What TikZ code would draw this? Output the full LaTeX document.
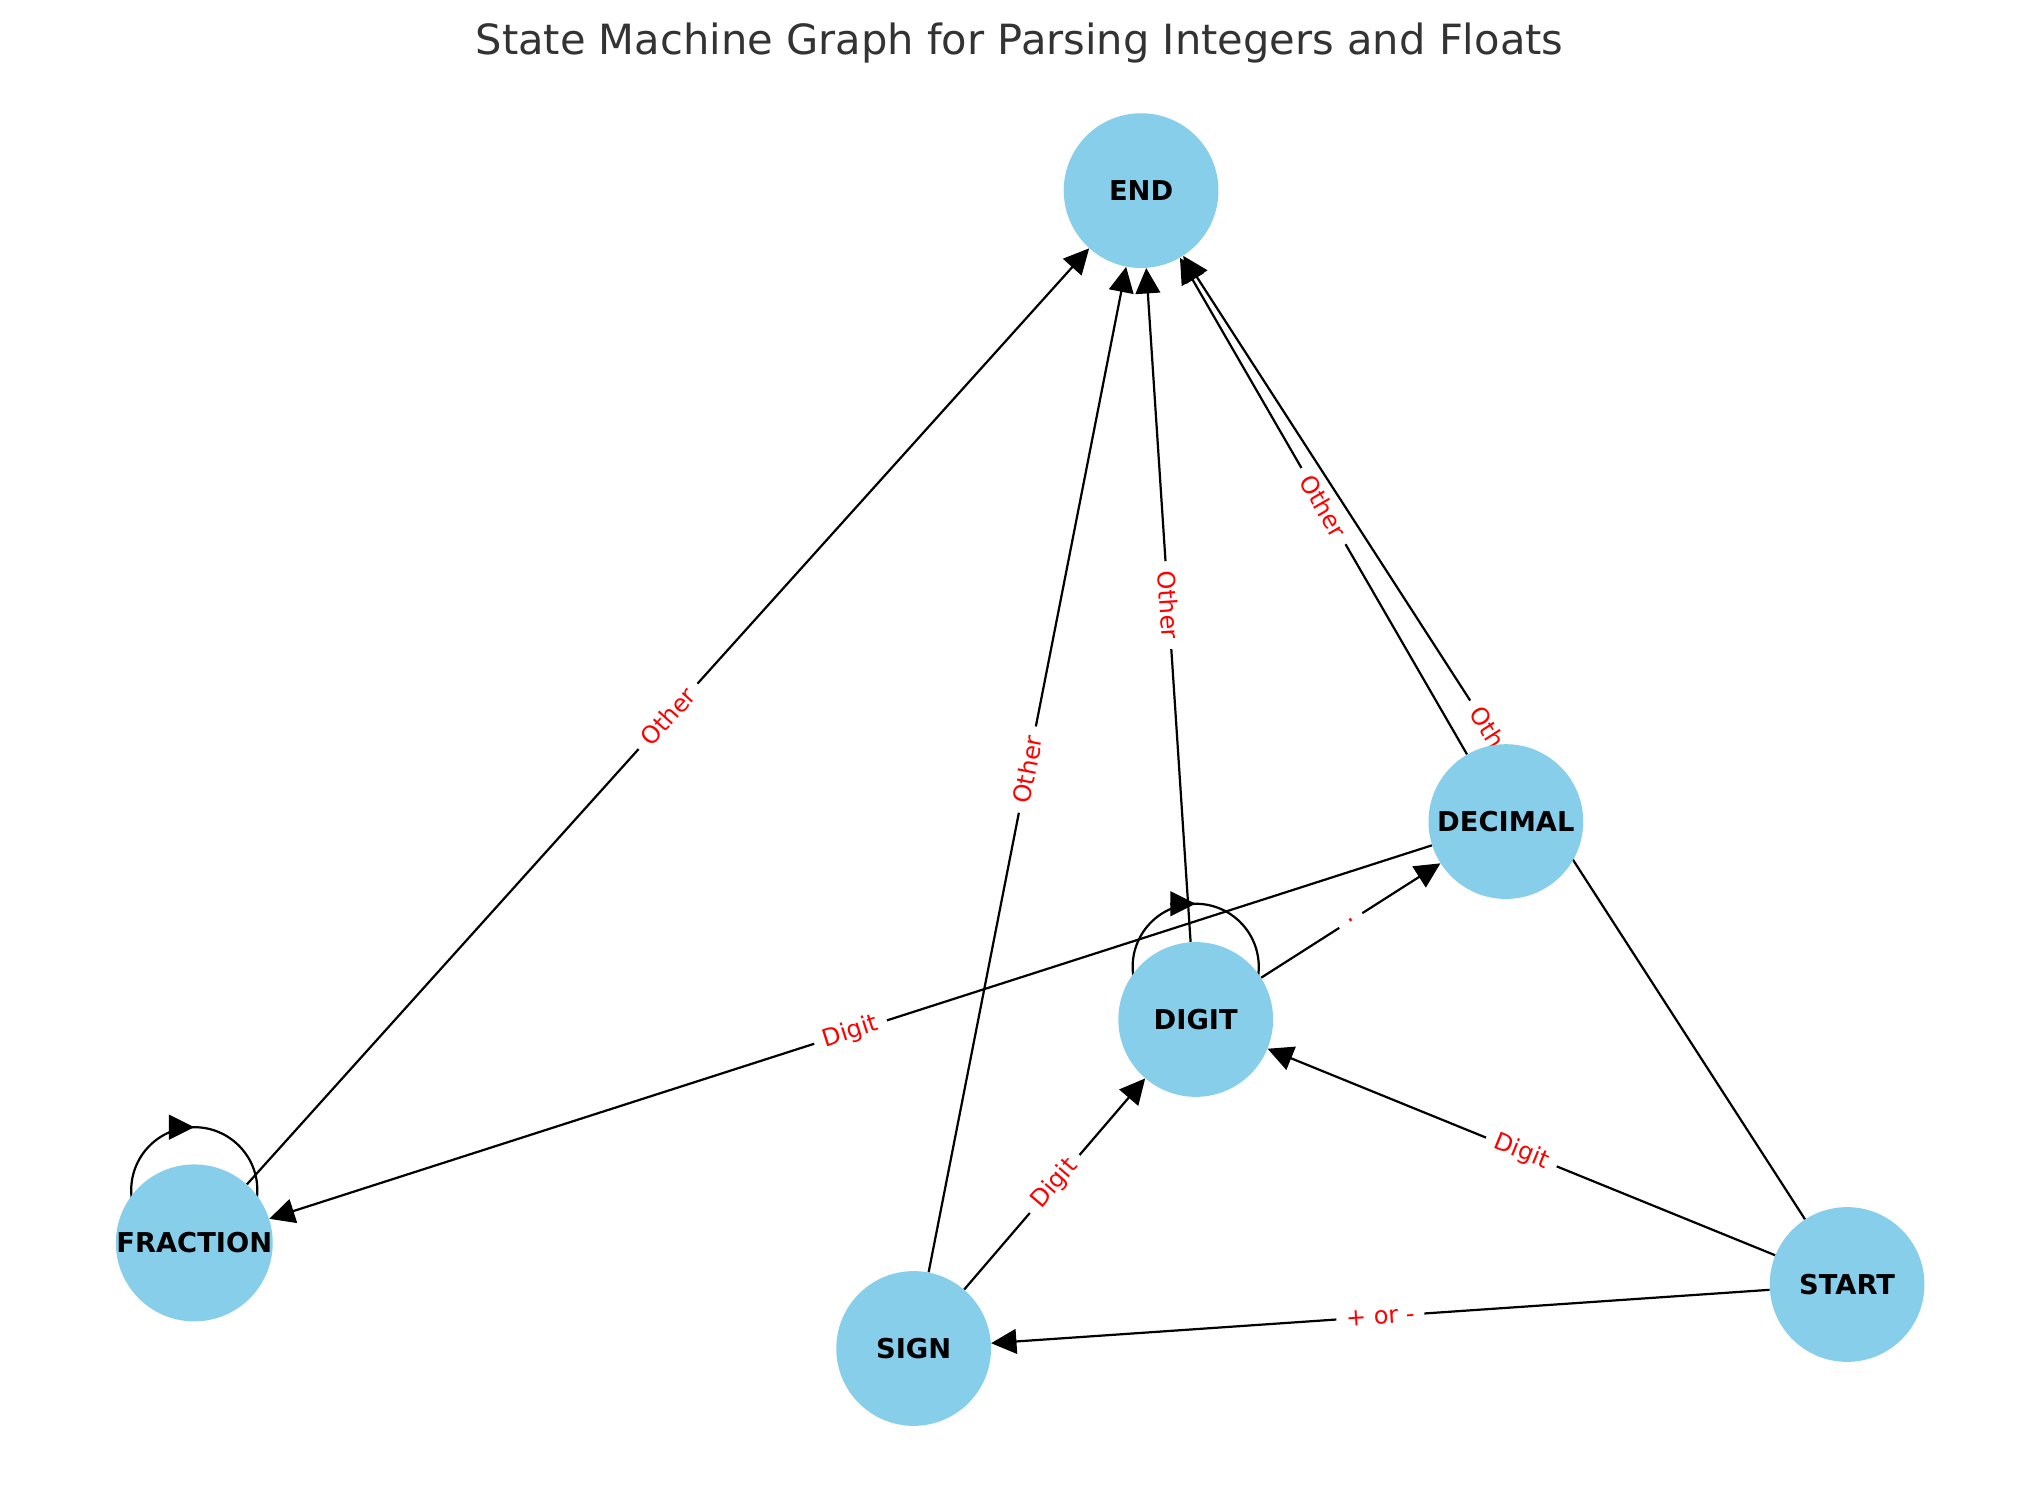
\documentclass[tikz,border=0pt]{standalone}
\usepackage{fontspec}
\setmainfont{DejaVu Sans}
\usetikzlibrary{arrows.meta,calc}
\pgfdeclarelayer{edgelayer}
\pgfdeclarelayer{labellayer}
\pgfsetlayers{edgelayer,labellayer,main}
\definecolor{skyblue}{HTML}{87CEEB}
\definecolor{titlegray}{HTML}{333333}
\begin{document}
\begin{tikzpicture}[x=1pt,y=1pt,
  st/.style={circle, fill=skyblue, minimum size=119pt, inner sep=0pt, font=\fontsize{21}{25}\selectfont\bfseries},
  arr/.style={line width=1.7pt, draw=black, -{Triangle[length=19.5pt,width=19pt]}},
  loopline/.style={line width=1.7pt, draw=black},
  lbl/.style={sloped, midway, fill=white, text=red, inner xsep=7.5pt, inner ysep=3pt, font=\fontsize{18.5}{22}\selectfont}
]
\useasboundingbox (0,0) rectangle (1568,1145);
\node[font=\fontsize{32}{38}\selectfont, text=titlegray, anchor=base] (title) at (784,1103) {State Machine Graph for Parsing Integers and Floats};

\node[st] (end)   at (877.5,998.4) {END};
\node[st] (dec)   at (1158,513.2)  {DECIMAL};
\node[st] (dig)   at (919.5,361)   {DIGIT};
\node[st] (fra)   at (149.4,189.2) {FRACTION};
\node[st] (sign)  at (702.6,108)   {SIGN};
\node[st] (start) at (1420.4,157.2){START};

\begin{pgfonlayer}{edgelayer}
\draw[arr] (start) -- (sign);
\draw[arr] (start) -- (dig);
\draw[arr] (sign) -- (dig);
\draw[arr] (sign) -- (end);
\draw[arr] (dig) -- (dec);
\draw[arr] (dig) -- (end);
\draw[arr] (dec) -- (fra);
\draw[arr] (dec) -- (end);
\draw[arr] (start) -- (end);
\draw[arr] (fra) -- (end);
\draw[loopline] ($(dig.center)+(0,40.5)$) circle[radius=48.5];
\draw[arr] ($(dig.center)+(-19.5,89)$) -- ($(dig.center)+(0,89)$);
\draw[loopline] ($(fra.center)+(0,40.5)$) circle[radius=48.5];
\draw[arr] ($(fra.center)+(-19.5,89)$) -- ($(fra.center)+(0,89)$);
\end{pgfonlayer}

\begin{pgfonlayer}{labellayer}
\path (start) -- node[lbl] {+ or -} (sign);
\path (start) -- node[lbl] {Digit} (dig);
\path (sign) -- node[lbl] {Digit} (dig);
\path (sign) -- node[lbl] {Other} (end);
\path (dig) -- node[lbl] {.} (dec);
\path (dig) -- node[lbl] {Other} (end);
\path (dec) -- node[lbl] {Digit} (fra);
\path (dec) -- node[lbl] {Other} (end);
\path (start) -- node[lbl] {Other} (end);
\path (fra) -- node[lbl] {Other} (end);
\end{pgfonlayer}
\end{tikzpicture}
\end{document}
